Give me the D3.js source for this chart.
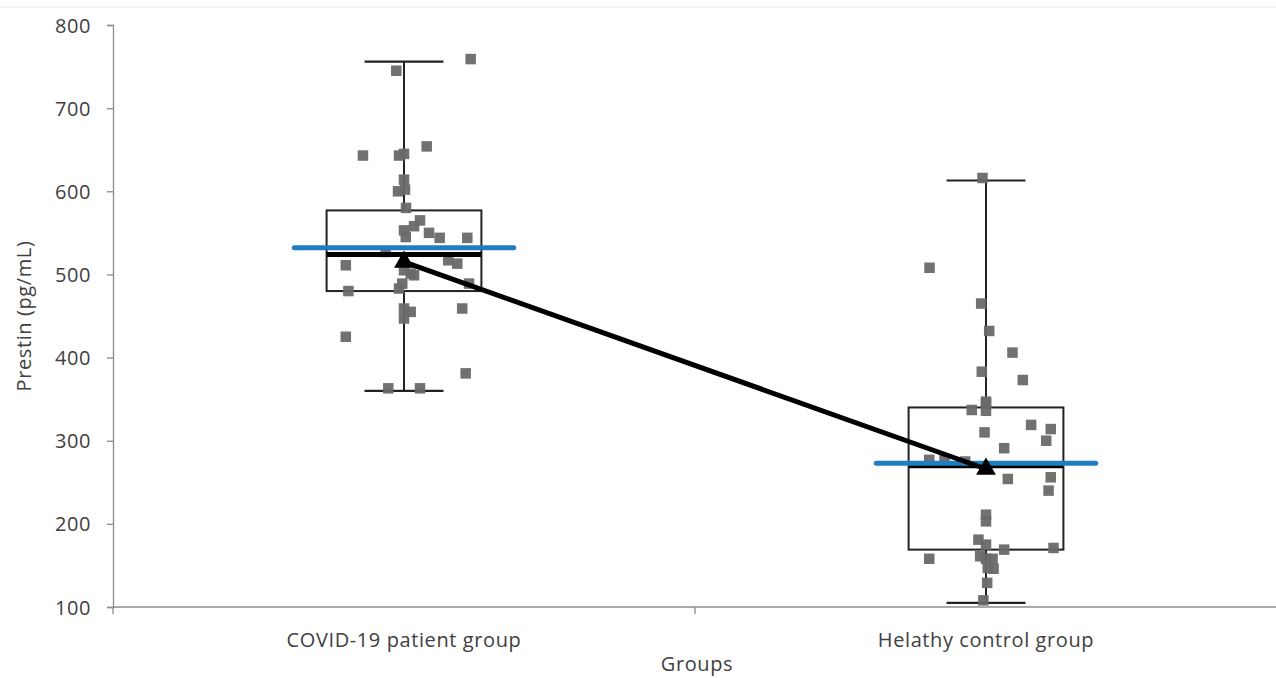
<!DOCTYPE html>
<html>
<head>
<meta charset="utf-8">
<script src="https://cdn.jsdelivr.net/npm/d3@7"></script>
<style>
  body { margin: 0; background: #fff; }
  text { font-family: "Open Sans", sans-serif; fill: #404040; }
</style>
</head>
<body>
<svg id="chart" width="1276" height="678"></svg>
<script>
// groups and summary stats (pg/mL)
var groups = ["COVID-19 patient group", "Helathy control group"];
var whiskerLow  = [360, 105];
var q1Vals      = [480, 169];
var medianVals  = [524, 270];
var q3Vals      = [577, 340];
var whiskerHigh = [756, 613];
var meanVals    = [532, 273];
var trendVals   = [515, 266];
var yTicks = [100, 200, 300, 400, 500, 600, 700, 800];

// individual observations: value + horizontal jitter (fraction of half band)
var covidVals = [745, 759, 643, 643, 645, 654, 614, 600, 602, 580, 565, 558, 553, 545, 550, 544, 544, 527,
                 511, 517, 513, 489, 505, 501, 499, 489, 483, 480, 459, 455, 447, 459, 425, 381, 363, 363];
var covidJit  = [-0.053, 0.458, -0.282, -0.034, 0, 0.156, 0, -0.041, 0.007, 0.014, 0.11, 0.069, 0, 0.012, 0.172, 0.245, 0.435, -0.126,
                 -0.4, 0.304, 0.366, 0.447, 0, 0.046, 0.069, -0.012, -0.034, -0.382, 0, 0.046, 0, 0.4, -0.4, 0.424, -0.108, 0.11];
var healthyVals = [616, 508, 465, 432, 406, 383, 373, 347, 345, 337, 336, 319, 314, 310, 300, 291, 277, 277,
                   275, 254, 256, 240, 211, 203, 181, 175, 169, 171, 161, 158, 158, 158, 146, 147, 129, 108];
var healthyJit  = [-0.024, -0.388, -0.033, 0.022, 0.182, -0.029, 0.253, 0, 0, -0.098, 0, 0.31, 0.445, -0.01, 0.414, 0.125, -0.39, -0.285,
                   -0.143, 0.15, 0.445, 0.43, 0, 0, -0.052, 0, 0.125, 0.464, -0.04, 0, 0.045, -0.39, 0.052, 0.012, 0.008, -0.018];

var svg = d3.select("#chart");
var margin = {left: 113, right: -1, top: 25, bottom: 71};
var W = 1276, H = 678;

var x = d3.scaleBand().domain(groups).range([margin.left, W - margin.right]).padding(0);
var y = d3.scaleLinear().domain([100, 800]).range([H - margin.bottom, margin.top]);
var bw = x.bandwidth();
var cx = function(i) { return x(groups[i]) + bw / 2; };
var jit = d3.scaleLinear().domain([-1, 1]).range([-bw / 4, bw / 4]);

var boxW = bw * 0.266, capW = bw * 0.115, meanW = bw * 0.377;
var fs = "20px", ls = "0.6px";

// faint frame line at top
svg.append("line").attr("x1", 0).attr("x2", W).attr("y1", 7).attr("y2", 7)
   .style("stroke", "#e6e6e6").style("stroke-width", 1);

// axes
var yAxis = svg.append("g").attr("transform", "translate(" + margin.left + ",0)")
   .call(d3.axisLeft(y).tickValues(yTicks).tickSize(6).tickPadding(16).tickFormat(d3.format("d")));
yAxis.select(".domain").style("stroke", "#8c8c8c").style("stroke-width", 1.3);
yAxis.selectAll(".tick line").style("stroke", "#8c8c8c").style("stroke-width", 1.3);
yAxis.selectAll(".tick text").style("font-size", fs).style("letter-spacing", ls)
   .style("fill", "#404040").attr("dy", "0.35em");

var xAxis = svg.append("g").attr("transform", "translate(0," + y(100) + ")");
xAxis.append("line").attr("x1", margin.left).attr("x2", W + 2)
   .style("stroke", "#8c8c8c").style("stroke-width", 1.3);
xAxis.selectAll("line.tk").data(x.range().concat([x(groups[1])])).enter().append("line")
   .attr("class", "tk").attr("x1", function(d) { return d; }).attr("x2", function(d) { return d; })
   .attr("y1", 0).attr("y2", 7)
   .style("stroke", "#8c8c8c").style("stroke-width", 1.3);
xAxis.selectAll("text").data(groups).enter().append("text")
   .attr("x", function(d) { return x(d) + bw / 2; }).attr("y", 40)
   .attr("text-anchor", "middle").style("font-size", fs).style("letter-spacing", ls)
   .text(function(d) { return d; });

svg.append("text").attr("x", 697).attr("y", 671).attr("text-anchor", "middle")
   .style("font-size", fs).style("letter-spacing", ls).text("Groups");
svg.append("text").attr("transform", "translate(31," + y(450) + ") rotate(-90)")
   .attr("text-anchor", "middle").style("font-size", fs).style("letter-spacing", ls).text("Prestin (pg/mL)");

// boxes + whiskers
groups.forEach(function(g, i) {
  var c = cx(i);
  var bx = svg.append("g");
  bx.append("line").attr("x1", c).attr("x2", c).attr("y1", y(whiskerHigh[i])).attr("y2", y(q3Vals[i]))
    .style("stroke", "#222").style("stroke-width", 2);
  bx.append("line").attr("x1", c).attr("x2", c).attr("y1", y(q1Vals[i])).attr("y2", y(whiskerLow[i]))
    .style("stroke", "#222").style("stroke-width", 2);
  [whiskerHigh[i], whiskerLow[i]].forEach(function(v) {
    bx.append("line").attr("x1", c - capW / 2 - 6).attr("x2", c + capW / 2 + 6).attr("y1", y(v)).attr("y2", y(v))
      .style("stroke", "#222").style("stroke-width", 2.2);
  });
  bx.append("rect").attr("x", c - boxW / 2).attr("width", boxW)
    .attr("y", y(q3Vals[i])).attr("height", y(q1Vals[i]) - y(q3Vals[i]))
    .style("fill", "none").style("stroke", "#222").style("stroke-width", 2);
});

// points
var pts = [];
covidVals.forEach(function(v, k) { pts.push({g: 0, v: v, j: covidJit[k]}); });
healthyVals.forEach(function(v, k) { pts.push({g: 1, v: v, j: healthyJit[k]}); });
var sq = 10.5;
svg.append("g").selectAll("rect").data(pts).enter().append("rect")
   .attr("x", function(d) { return cx(d.g) + jit(d.j) - sq / 2; })
   .attr("y", function(d) { return y(d.v) - sq / 2; })
   .attr("width", sq).attr("height", sq)
   .style("fill", "#696969").style("opacity", 0.95);

// median lines
groups.forEach(function(g, i) {
  var c = cx(i);
  svg.append("line").attr("x1", c - boxW / 2).attr("x2", c + boxW / 2)
    .attr("y1", y(medianVals[i])).attr("y2", y(medianVals[i]))
    .style("stroke", "#000").style("stroke-width", 5);
});

// mean lines
groups.forEach(function(g, i) {
  var c = cx(i);
  svg.append("line").attr("x1", c - meanW / 2).attr("x2", c + meanW / 2)
    .attr("y1", y(meanVals[i])).attr("y2", y(meanVals[i]))
    .style("stroke", "#1f7dc1").style("stroke-width", 5).style("stroke-linecap", "round");
});

// trend line + triangles
var trend = d3.line().x(function(d, i) { return cx(i); }).y(function(d) { return y(d); });
svg.append("path").datum(trendVals).attr("d", trend)
   .style("fill", "none").style("stroke", "#000").style("stroke-width", 5);
svg.append("g").selectAll("path").data(trendVals).enter().append("path")
   .attr("transform", function(d, i) { return "translate(" + cx(i) + "," + y(d) + ")"; })
   .attr("d", d3.symbol().type(d3.symbolTriangle).size(170))
   .style("fill", "#000");
</script>
</body>
</html>
